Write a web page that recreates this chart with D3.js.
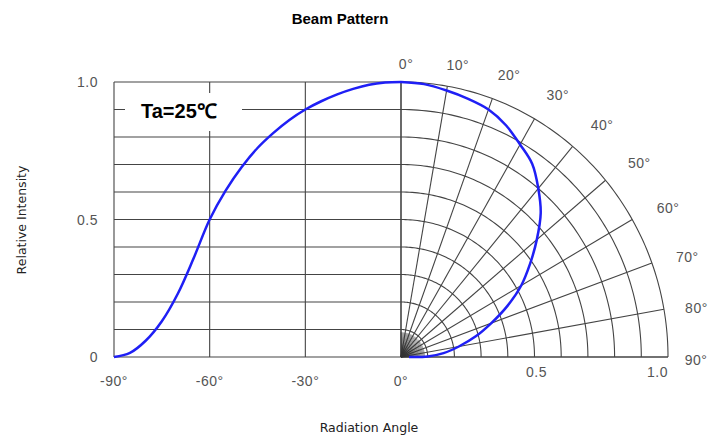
<!DOCTYPE html>
<html>
<head>
<meta charset="utf-8">
<script src="https://cdn.jsdelivr.net/npm/d3@7"></script>
<style>
body { margin: 0; background: #fff; }
</style>
</head>
<body>
<div id="chart"></div>
<script>
// left half: relative intensity vs angle (cartesian)
const leftAngles = [-90, -85, -80, -75, -70, -65, -60, -55, -50, -45, -40, -35, -30, -25, -20, -15, -10, -5, 0];
const leftValues = [0, 0.015, 0.06, 0.13, 0.23, 0.36, 0.5, 0.605, 0.69, 0.76, 0.815, 0.862, 0.9, 0.93, 0.955, 0.975, 0.99, 0.998, 1.0];

// right half: same pattern drawn in polar form
const polarAngles = [0, 5, 10, 15, 20, 25, 30, 35, 40, 45, 50, 55, 60, 65, 70, 75, 80, 85, 89, 90];
const polarValues = [1.0, 0.996, 0.984, 0.972, 0.958, 0.93, 0.892, 0.857, 0.8, 0.74, 0.664, 0.59, 0.52, 0.44, 0.36, 0.29, 0.22, 0.16, 0.1, 0.03];

const xTicks = [-90, -60, -30, 0];
const yTicks = [0, 0.5, 1.0];
const yTickLabels = ["0", "0.5", "1.0"];
const rTicks = [0.5, 1.0];
const rTickLabels = ["0.5", "1.0"];
const spokeAngles = [0, 10, 20, 30, 40, 50, 60, 70, 80, 90];
const spokeLabels = ["0°", "10°", "20°", "30°", "40°", "50°", "60°", "70°", "80°", "90°"];
const gridLevels = [0.1, 0.2, 0.3, 0.4, 0.5, 0.6, 0.7, 0.8, 0.9, 1.0];

const width = 710, height = 439;
const tickFont = "'Liberation Sans', Arial, sans-serif";
const rad = a => a * Math.PI / 180;

const svg = d3.select("#chart")
    .append("svg")
    .attr("width", width)
    .attr("height", height);

const x = d3.scaleLinear().domain([-90, 0]).range([114, 401]);
const y = d3.scaleLinear().domain([0, 1]).range([357, 82]);
const rx = d3.scaleLinear().domain([0, 1]).range([0, 267]);
const ox = x(0), oy = y(0);

// polar point -> screen
const px = (a, r) => ox + rx(r) * Math.sin(rad(a));
const py = (a, r) => y(r * Math.cos(rad(a)));

const grid = svg.append("g")
    .attr("fill", "none")
    .attr("stroke", "#444")
    .attr("stroke-width", 1.1);

// left cartesian grid
grid.selectAll(".hline")
    .data(gridLevels)
    .enter()
    .append("line")
    .attr("x1", x(-90))
    .attr("x2", x(0))
    .attr("y1", d => y(d))
    .attr("y2", d => y(d));

grid.selectAll(".vline")
    .data(xTicks)
    .enter()
    .append("line")
    .attr("x1", d => x(d))
    .attr("x2", d => x(d))
    .attr("y1", y(0))
    .attr("y2", y(1));

// baseline across both halves
grid.append("line")
    .attr("x1", x(-90))
    .attr("x2", ox + rx(1))
    .attr("y1", oy)
    .attr("y2", oy);

// polar arcs
const arcLine = d3.line();
grid.selectAll(".arc")
    .data(gridLevels)
    .enter()
    .append("path")
    .attr("d", r => arcLine(d3.range(0, 90.5, 1).map(a => [px(a, r), py(a, r)])));

// spokes
grid.selectAll(".spoke")
    .data(spokeAngles)
    .enter()
    .append("line")
    .attr("x1", ox)
    .attr("y1", oy)
    .attr("x2", d => px(d, 1))
    .attr("y2", d => py(d, 1));

// dense fan near the origin
svg.append("g")
    .attr("stroke", "#333")
    .attr("stroke-width", 0.5)
    .selectAll("line")
    .data(d3.range(0, 90.1, 2.5))
    .enter()
    .append("line")
    .attr("x1", ox)
    .attr("y1", oy)
    .attr("x2", d => px(d, 0.09))
    .attr("y2", d => py(d, 0.09));

// label box
svg.append("rect")
    .attr("x", 125)
    .attr("y", 93)
    .attr("width", 117)
    .attr("height", 38)
    .attr("fill", "#fff");

svg.append("text")
    .attr("x", 141)
    .attr("y", 118)
    .style("font-family", "'Liberation Sans', Arial, sans-serif")
    .style("font-weight", "bold")
    .style("font-size", "20px")
    .text("Ta=25℃");

// curves
const curveColor = "#1f1ff5";
svg.append("path")
    .datum(leftAngles.map((a, i) => [x(a), y(leftValues[i])]))
    .attr("fill", "none")
    .attr("stroke", curveColor)
    .attr("stroke-width", 2.5)
    .attr("d", d3.line().curve(d3.curveCatmullRom));

svg.append("path")
    .datum(polarAngles.map((a, i) => [px(a, polarValues[i]), py(a, polarValues[i])]))
    .attr("fill", "none")
    .attr("stroke", curveColor)
    .attr("stroke-width", 2.5)
    .attr("d", d3.line().curve(d3.curveCatmullRom));

// tick labels
const labels = svg.append("g")
    .style("font-family", tickFont)
    .style("font-size", "14px")
    .style("letter-spacing", "0.5px")
    .attr("fill", "#555");

labels.selectAll(".ylab")
    .data(yTicks)
    .enter()
    .append("text")
    .attr("x", 98)
    .attr("y", d => y(d) + 5)
    .attr("text-anchor", "end")
    .text((d, i) => yTickLabels[i]);

labels.selectAll(".xlab")
    .data(xTicks)
    .enter()
    .append("text")
    .attr("x", d => x(d))
    .attr("y", 386)
    .attr("text-anchor", "middle")
    .text(d => d + "°");

labels.selectAll(".rlab")
    .data(rTicks)
    .enter()
    .append("text")
    .attr("x", d => ox + rx(d) + (d === 1 ? 0 : 2))
    .attr("y", 377)
    .attr("text-anchor", d => d === 1 ? "end" : "middle")
    .text((d, i) => rTickLabels[i]);

// angle labels sit on a slightly squared ring outside the arc
const ringR = a => 293 + 13 * Math.sin(rad(2 * a));
labels.selectAll(".alab")
    .data(spokeAngles)
    .enter()
    .append("text")
    .attr("x", d => ox + ringR(d) * Math.sin(rad(d + 0.6)) + 2)
    .attr("y", d => oy - ringR(d) * Math.cos(rad(d + 0.6)) + 5)
    .attr("text-anchor", "middle")
    .text((d, i) => spokeLabels[i]);

// titles
svg.append("text")
    .attr("x", 340)
    .attr("y", 24)
    .attr("text-anchor", "middle")
    .style("font-family", "'Liberation Sans', Arial, sans-serif")
    .style("font-weight", "bold")
    .style("font-size", "15px")
    .text("Beam Pattern");

svg.append("text")
    .attr("transform", "translate(26,220) rotate(-90)")
    .attr("text-anchor", "middle")
    .style("font-family", "'DejaVu Sans', sans-serif")
    .style("font-size", "12.5px")
    .attr("fill", "#222")
    .text("Relative Intensity");

svg.append("text")
    .attr("x", 369)
    .attr("y", 432)
    .attr("text-anchor", "middle")
    .style("font-family", "'DejaVu Sans', sans-serif")
    .style("font-size", "12.5px")
    .attr("fill", "#222")
    .text("Radiation Angle");
</script>
</body>
</html>
